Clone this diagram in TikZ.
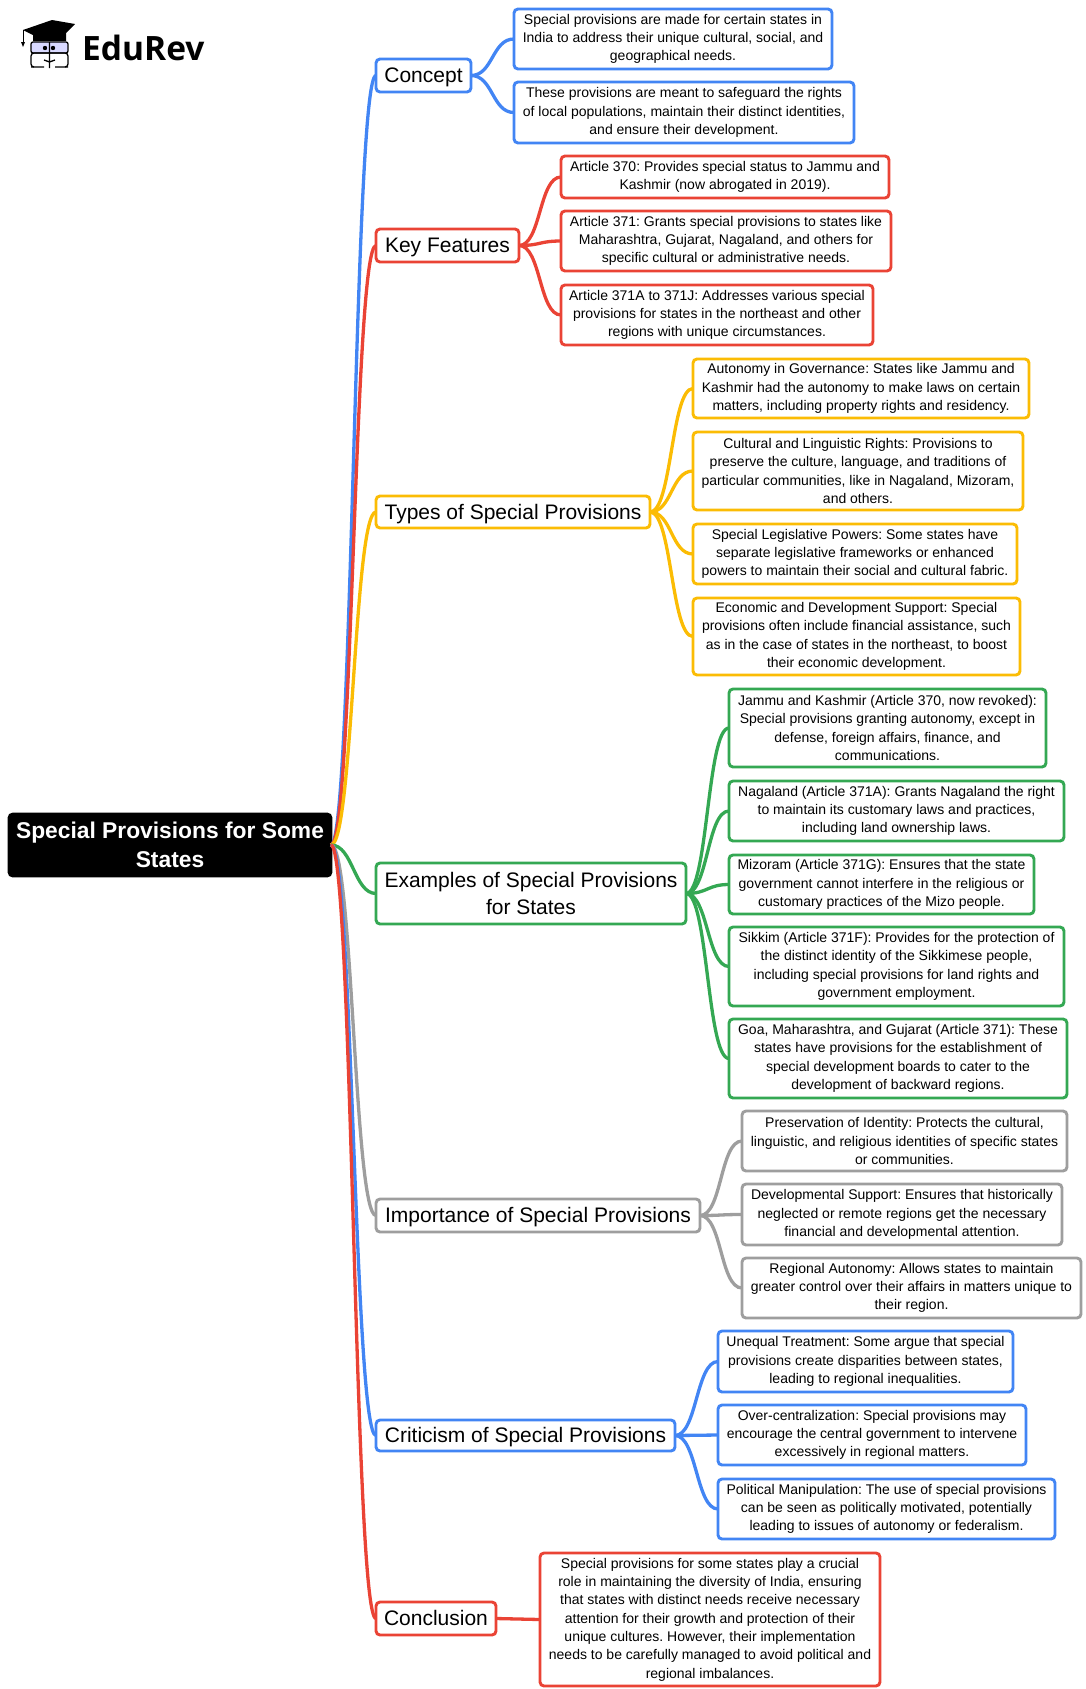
\documentclass[tikz,border=0pt]{standalone}
\usepackage{fontspec}
\setmainfont{Liberation Sans}
\newfontfamily\logofont{Open Sans}
\frenchspacing
\definecolor{mapblue}{HTML}{4285F4}
\definecolor{mapred}{HTML}{EA4335}
\definecolor{mapyellow}{HTML}{FBBC04}
\definecolor{mapgreen}{HTML}{34A853}
\definecolor{mapgrey}{HTML}{9E9E9E}
\tikzset{
    anybox/.style={draw, line width=2.9pt, rounded corners=4pt, fill=white, align=center, anchor=north west, inner sep=0pt, outer sep=0pt},
    rootbox/.style={anybox, draw=black, fill=black, text=white, font=\fontsize{22.8}{29.5}\selectfont\bfseries},
    mainbox/.style={anybox, font=\fontsize{21}{27}\selectfont, text depth=1pt},
    subbox/.style={anybox, font=\fontsize{14}{18.3}\selectfont},
    trunk/.style={line width=3.3pt},
    twig/.style={line width=3.3pt}
}
\begin{document}
\begin{tikzpicture}[x=1pt,y=-1pt]
    \useasboundingbox (0,0) rectangle (1086,1689);

    % logo
    \fill[black] (23,30) -- (52,20) -- (75,24) -- (66,33) -- (66,41) -- (33,41) -- (33,35) -- cycle;
    \draw[line width=1pt] (23,30) -- (23,43);
    \fill[black] (21,42) -- (25,42) -- (23,47) -- cycle;
    \fill[blue!15] (31,42) rectangle (68,53);
    \draw[line width=1.3pt, rounded corners=2pt] (31,42) rectangle (68,53);
    \draw[line width=1.3pt, rounded corners=3pt] (34,67) -- (31,67) -- (31,53) -- (68,53) -- (68,67) -- (65,67);
    \draw[line width=1.3pt] (49.5,42) -- (49.5,68) (31,67) -- (44,67) (55,67) -- (68,67) (44,60) -- (49.5,62) -- (55,60);
    \fill[black] (45,48) circle (2.2pt) (53,48) circle (2.2pt);
    \node[font=\fontsize{33.5}{35}\selectfont\logofont\bfseries, anchor=west, inner sep=0pt] (logotext) at (82,48) {EduRev};

    \node[rootbox, minimum width=322pt, minimum height=62pt] (root) at (9,814) {Special Provisions for Some\\States};

    % main branches
    \foreach \id/\col/\x/\y/\w/\h/\txt in {
        concept/mapblue/376/59/95/33/{Concept},
        features/mapred/376/229/143/33/{Key Features},
        types/mapyellow/376/496/274/32/{Types of Special Provisions},
        examples/mapgreen/376/863/310/61/{Examples of Special Provisions\\for States},
        importance/mapgrey/376/1199/324/33/{Importance of Special Provisions},
        criticism/mapblue/376/1420/299/31/{Criticism of Special Provisions},
        conclusion/mapred/376/1602/120/33/{Conclusion}} {
        \draw[trunk, \col] (root.east) .. controls +(22,0) and +(-22,0) .. (\x,\y+\h/2);
        \node[mainbox, draw=\col, minimum width=\w pt, minimum height=\h pt] (\id) at (\x,\y) {\txt};
    }

    % concept
    \foreach \id/\x/\y/\w/\h/\txt in {
        cone/514/9/318/60/{Special provisions are made for certain states in\\India to address their unique cultural, social, and\\geographical needs.},
        ctwo/514/82/340/61/{These provisions are meant to safeguard the rights\\of local populations, maintain their distinct identities,\\and ensure their development.}} {
        \node[subbox, draw=mapblue, minimum width=\w pt, minimum height=\h pt] (\id) at (\x,\y) {\txt};
        \draw[twig, mapblue] (concept.east) .. controls +(22,0) and +(-22,0) .. (\id.west);
    }

    % key features
    \foreach \id/\x/\y/\w/\h/\txt in {
        kone/561/156/328/42/{Article 370: Provides special status to Jammu and\\Kashmir (now abrogated in 2019).},
        ktwo/561/211/330/60/{Article 371: Grants special provisions to states like\\Maharashtra, Gujarat, Nagaland, and others for\\specific cultural or administrative needs.},
        kthree/561/285/312/60/{Article 371A to 371J: Addresses various special\\provisions for states in the northeast and other\\regions with unique circumstances.}} {
        \node[subbox, draw=mapred, minimum width=\w pt, minimum height=\h pt] (\id) at (\x,\y) {\txt};
        \draw[twig, mapred] (features.east) .. controls +(22,0) and +(-22,0) .. (\id.west);
    }

    % types
    \foreach \id/\x/\y/\w/\h/\txt in {
        tone/693/359/336/59/{Autonomy in Governance: States like Jammu and\\Kashmir had the autonomy to make laws on certain\\matters, including property rights and residency.},
        ttwo/693/432/330/78/{Cultural and Linguistic Rights: Provisions to\\preserve the culture, language, and traditions of\\particular communities, like in Nagaland, Mizoram,\\and others.},
        tthree/693/524/324/60/{Special Legislative Powers: Some states have\\separate legislative frameworks or enhanced\\powers to maintain their social and cultural fabric.},
        tfour/693/598/327/77/{Economic and Development Support: Special\\provisions often include financial assistance, such\\as in the case of states in the northeast, to boost\\their economic development.}} {
        \node[subbox, draw=mapyellow, minimum width=\w pt, minimum height=\h pt] (\id) at (\x,\y) {\txt};
        \draw[twig, mapyellow] (types.east) .. controls +(22,0) and +(-22,0) .. (\id.west);
    }

    % examples
    \foreach \id/\x/\y/\w/\h/\txt in {
        eone/729/689/317/78/{Jammu and Kashmir (Article 370, now revoked):\\Special provisions granting autonomy, except in\\defense, foreign affairs, finance, and\\communications.},
        etwo/729/781/335/60/{Nagaland (Article 371A): Grants Nagaland the right\\to maintain its customary laws and practices,\\including land ownership laws.},
        ethree/729/855/305/59/{Mizoram (Article 371G): Ensures that the state\\government cannot interfere in the religious or\\customary practices of the Mizo people.},
        efour/729/927/335/79/{Sikkim (Article 371F): Provides for the protection of\\the distinct identity of the Sikkimese people,\\including special provisions for land rights and\\government employment.},
        efive/729/1019/338/79/{Goa, Maharashtra, and Gujarat (Article 371): These\\states have provisions for the establishment of\\special development boards to cater to the\\development of backward regions.}} {
        \node[subbox, draw=mapgreen, minimum width=\w pt, minimum height=\h pt] (\id) at (\x,\y) {\txt};
        \draw[twig, mapgreen] (examples.east) .. controls +(22,0) and +(-22,0) .. (\id.west);
    }

    % importance
    \foreach \id/\x/\y/\w/\h/\txt in {
        ione/742/1111/325/60/{Preservation of Identity: Protects the cultural,\\linguistic, and religious identities of specific states\\or communities.},
        itwo/742/1184/320/61/{Developmental Support: Ensures that historically\\neglected or remote regions get the necessary\\financial and developmental attention.},
        ithree/742/1258/339/60/{Regional Autonomy: Allows states to maintain\\greater control over their affairs in matters unique to\\their region.}} {
        \node[subbox, draw=mapgrey, minimum width=\w pt, minimum height=\h pt] (\id) at (\x,\y) {\txt};
        \draw[twig, mapgrey] (importance.east) .. controls +(22,0) and +(-22,0) .. (\id.west);
    }

    % criticism
    \foreach \id/\x/\y/\w/\h/\txt in {
        crone/718/1331/295/61/{Unequal Treatment: Some argue that special\\provisions create disparities between states,\\leading to regional inequalities.},
        crtwo/718/1405/308/60/{Over-centralization: Special provisions may\\encourage the central government to intervene\\excessively in regional matters.},
        crthree/718/1479/337/60/{Political Manipulation: The use of special provisions\\can be seen as politically motivated, potentially\\leading to issues of autonomy or federalism.}} {
        \node[subbox, draw=mapblue, minimum width=\w pt, minimum height=\h pt] (\id) at (\x,\y) {\txt};
        \draw[twig, mapblue] (criticism.east) .. controls +(22,0) and +(-22,0) .. (\id.west);
    }

    % conclusion
    \node[subbox, draw=mapred, minimum width=340pt, minimum height=133pt] (cnone) at (540,1553) {Special provisions for some states play a crucial\\role in maintaining the diversity of India, ensuring\\that states with distinct needs receive necessary\\attention for their growth and protection of their\\unique cultures. However, their implementation\\needs to be carefully managed to avoid political and\\regional imbalances.};
    \draw[twig, mapred] (conclusion.east) -- (cnone.west);
\end{tikzpicture}
\end{document}
